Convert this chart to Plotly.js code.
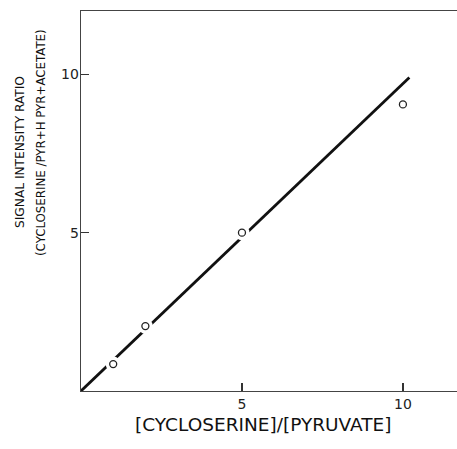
<!DOCTYPE html>
<html>
<head>
<meta charset="utf-8">
<script src="https://cdn.plot.ly/plotly-3.0.1.min.js"></script>
<style>html,body{margin:0;padding:0;background:#fff;}#chart{width:457px;height:449px;}</style>
</head>
<body>
<div id="chart"></div>
<script>
// Data
var ratioX = [1, 2, 5, 10];          // [cycloserine]/[pyruvate]
var signalY = [0.85, 2.05, 5.0, 9.05]; // signal intensity ratio
var fitX = [0, 10.2];
var fitY = [0, 9.9];
var xTicks = [5, 10];
var yTicks = [5, 10];
var xTitle = "[CYCLOSERINE]/[PYRUVATE]";
var yTitle1 = "SIGNAL INTENSITY RATIO";
var yTitle2 = "(CYCLOSERINE /PYR+H PYR+ACETATE)";

var font = "DejaVu Sans, Liberation Sans, sans-serif";

var traces = [
  {x: fitX, y: fitY, mode: "lines", line: {color: "#111", width: 2.8}, hoverinfo: "skip"},
  {x: ratioX, y: signalY, mode: "markers", marker: {symbol: "circle", size: 15, color: "#fff", line: {width: 0}}, hoverinfo: "skip"},
  {x: ratioX, y: signalY, mode: "markers", marker: {symbol: "circle-open", size: 7, color: "#222", line: {width: 1.3, color: "#222"}}}
];

var layout = {
  width: 457, height: 449,
  margin: {l: 81, r: 0, t: 11, b: 58},
  paper_bgcolor: "#fff", plot_bgcolor: "#fff",
  showlegend: false,
  font: {family: font, color: "#222"},
  xaxis: {
    range: [0, 11.68], tickvals: xTicks, ticktext: xTicks.map(String),
    ticks: "inside", ticklen: 8, tickwidth: 1.2, tickcolor: "#333",
    showline: true, linecolor: "#444", linewidth: 1.4, mirror: true,
    showgrid: false, zeroline: false,
    tickfont: {size: 14, color: "#222", family: font}
  },
  yaxis: {
    range: [0, 12.0], tickvals: yTicks, ticktext: yTicks.map(String),
    ticks: "inside", ticklen: 8, tickwidth: 1.2, tickcolor: "#333",
    showline: true, linecolor: "#444", linewidth: 1.4,
    showgrid: false, zeroline: false, ticklabelstandoff: -2,
    tickfont: {size: 14, color: "#222", family: font}
  },
  annotations: [
    {text: xTitle, xref: "paper", yref: "paper", x: (263 - 81) / 376, y: -(424 - 391) / 380,
     showarrow: false, xanchor: "center", yanchor: "middle", font: {size: 18.5, family: font, color: "#111"}},
    {text: yTitle1, xref: "paper", yref: "paper", x: -(81 - 20) / 376, y: (391 - 152) / 380, textangle: -90,
     showarrow: false, xanchor: "center", yanchor: "middle", font: {size: 12.2, family: font, color: "#111"}},
    {text: yTitle2, xref: "paper", yref: "paper", x: -(81 - 41) / 376, y: (391 - 143) / 380, textangle: -90,
     showarrow: false, xanchor: "center", yanchor: "middle", font: {size: 11.8, family: font, color: "#111"}}
  ]
};

Plotly.newPlot("chart", traces, layout, {displayModeBar: false, staticPlot: true});
</script>
</body>
</html>
